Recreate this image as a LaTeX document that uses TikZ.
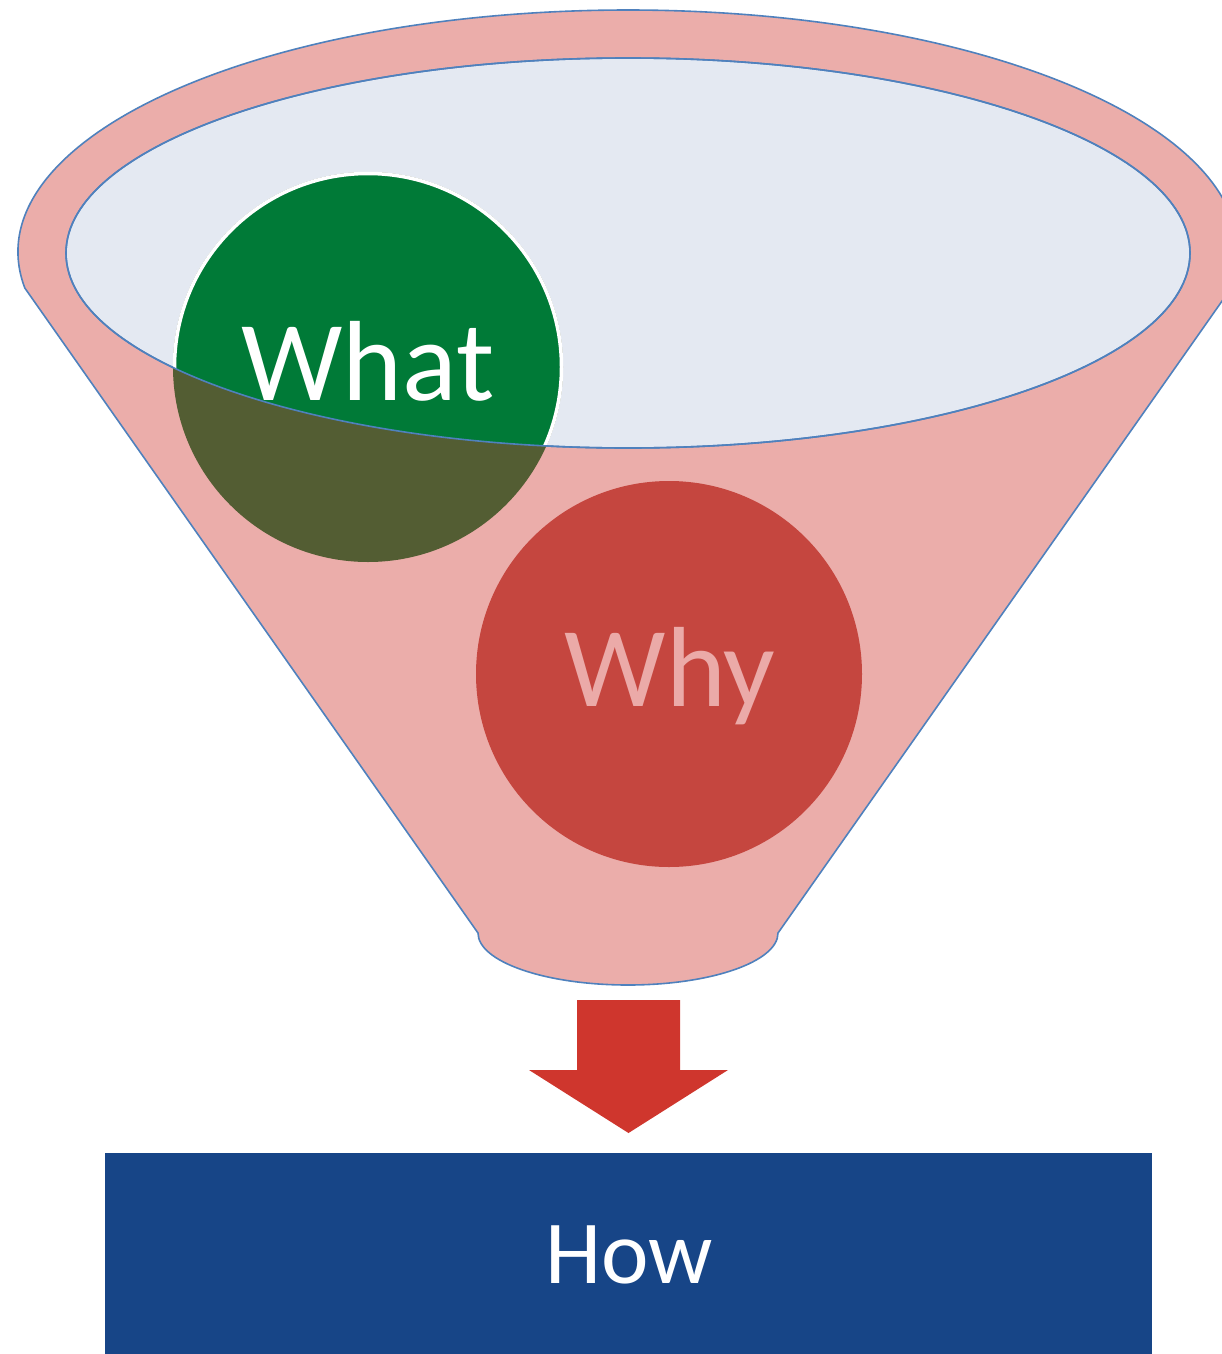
\documentclass[tikz,border=0pt]{standalone}
\usepackage{fontspec}
\setmainfont{Carlito}
\definecolor{funnelpink}{HTML}{EBADAA}
\definecolor{rimblue}{HTML}{4F81BD}
\definecolor{bowlfill}{HTML}{E4E9F2}
\definecolor{whatgreen}{HTML}{007A37}
\definecolor{whatolive}{HTML}{535D33}
\definecolor{whyred}{HTML}{C5463F}
\definecolor{whytext}{HTML}{EBAAA8}
\definecolor{arrowred}{HTML}{CF362D}
\definecolor{howblue}{HTML}{174587}
\tikzset{
  rim/.style={draw=rimblue, line width=1.6},
  bigword/.style={anchor=base, inner sep=0, font=\fontsize{114}{118}\selectfont},
}
\begin{document}
\begin{tikzpicture}[x=1pt, y=-1pt]
\useasboundingbox (0,0) rectangle (1222,1354);
\begin{scope}
\clip (0,0) rectangle (1222,1354);
% funnel body: outer rim over the top, straight sides, rounded spout
\path[fill=funnelpink, rim]
  (628,252) ++(171.44:610 and 242)
  arc[start angle=171.44, end angle=368.56, x radius=610, y radius=242]
  -- (778,933)
  arc[start angle=0, end angle=180, x radius=150, y radius=52]
  -- cycle;
% mouth of the funnel
\path[fill=bowlfill, rim] (628,253) ellipse[x radius=562, y radius=195];
% "What" disc: dark below the rim, bright green inside the mouth
\fill[whatolive] (368,367) circle[radius=195];
\begin{scope}
  \clip (628,253) ellipse[x radius=562, y radius=195];
  \path[fill=whatgreen, draw=white, line width=3.5] (368,367) circle[radius=193.5];
\end{scope}
\draw[rimblue, line width=1.6] (628,253) ellipse[x radius=562, y radius=195];
% "Why" disc
\fill[whyred] (669,674) circle[radius=193];
\end{scope}
\node[bigword, text=white] (what) at (368,400) {What};
\node[bigword, text=whytext] (why) at (670,706) {Why};
% block arrow out of the spout
\fill[arrowred] (577,1000) -- (680,1000) -- (680,1070) -- (728,1070)
  -- (628.5,1133) -- (529,1070) -- (577,1070) -- cycle;
% result bar
\node[fill=howblue, minimum width=1047, minimum height=201, inner sep=0,
      anchor=north west] (howbar) at (105,1153) {};
\node[anchor=base, inner sep=0, text=white, font=\fontsize{90}{94}\selectfont]
  (how) at (629,1283) {How};
\end{tikzpicture}
\end{document}
